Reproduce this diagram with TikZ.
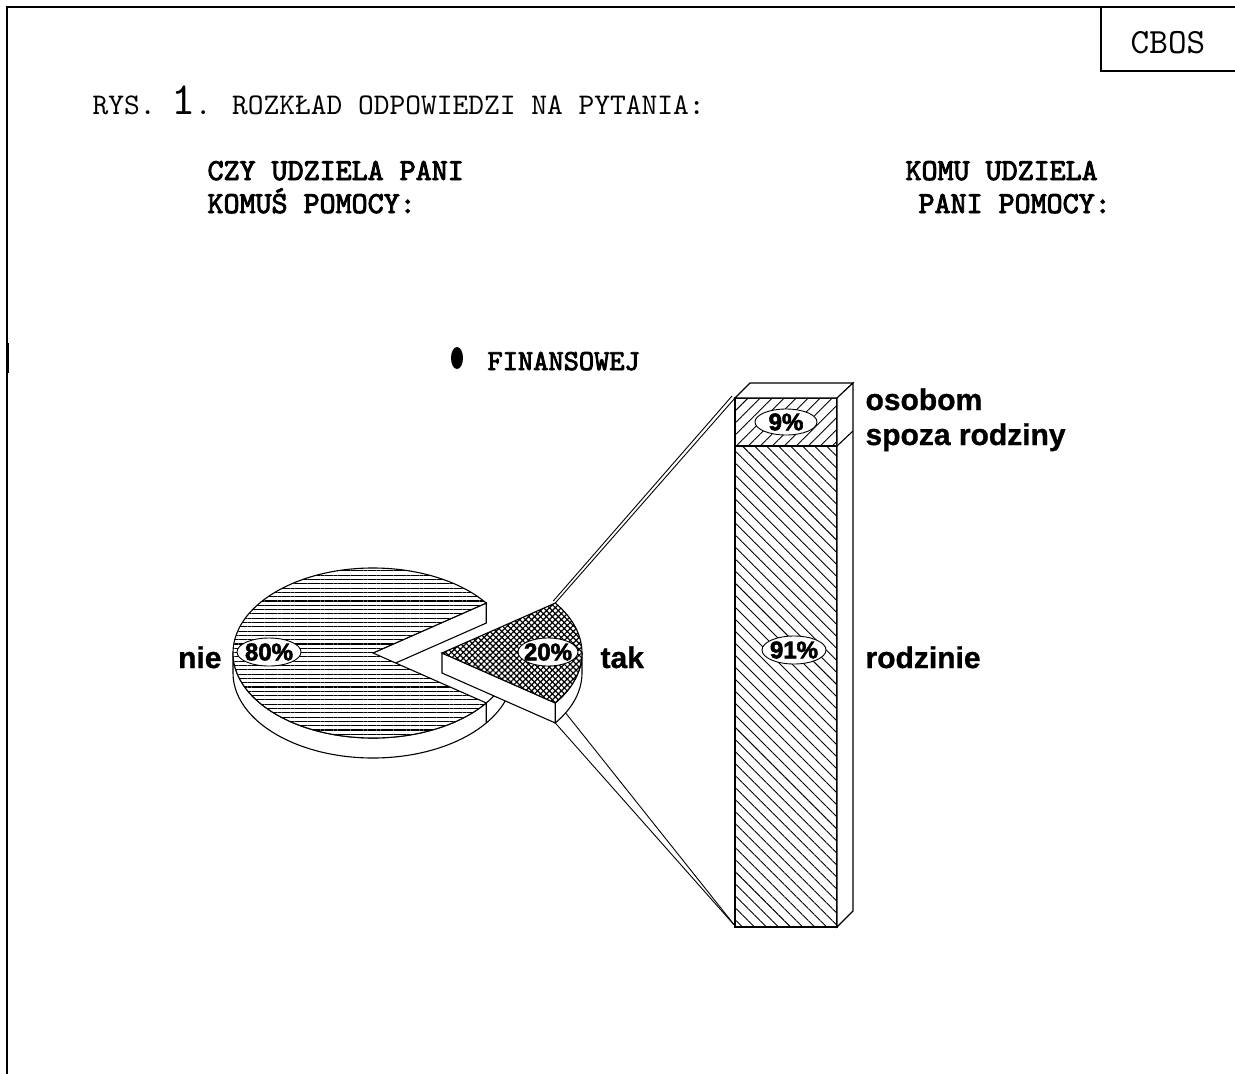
\documentclass[tikz,border=0pt]{standalone}
\usepackage{fontspec}
\setmainfont{Liberation Sans}
\newfontfamily\courier{lmmono10-regular.otf}
\newfontfamily\courierb{lmmono10-regular.otf}[FakeBold=3]
\newfontfamily\heavy{Liberation Sans}[UprightFont={* Bold}, FakeBold=2.5]
\newfontfamily\labelfont{Liberation Sans}[UprightFont={* Bold}, FakeBold=1]
\usetikzlibrary{patterns.meta, shapes.geometric, calc}

\begin{document}
\begin{tikzpicture}[x=1pt, y=1pt, line width=1.1pt,
        every node/.style={inner sep=0pt},
        mono/.style={font=\courier\fontsize{30}{30}\selectfont},
        monobold/.style={font=\courierb\fontsize{30.5}{30.5}\selectfont},
        biglabel/.style={font=\labelfont\fontsize{30}{30}\selectfont},
        pctbox/.style={ellipse, draw, fill=white, line width=0.9pt, minimum width=64pt, minimum height=28pt},
        pct/.style={font=\heavy\fontsize{24}{24}\selectfont},
        wall/.style={fill=white},
        pie arc/.style={x radius=140, y radius=85},
        nietop/.style={preaction={fill=white},
            pattern={Lines[angle=0,distance=4.3pt,line width=1.1pt]}},
        taktop/.style={preaction={fill=white},
            pattern={Hatch[angle=45,distance=4.2pt,line width=1.2pt]}},
        osobfill/.style={preaction={fill=white},
            pattern={Lines[angle=45,distance=8.5pt,line width=0.9pt]}},
        rodzfill/.style={preaction={fill=white},
            pattern={Lines[angle=-45,distance=8.5pt,line width=0.9pt]}},
        leader/.style={line width=0.9pt},
        ]

        \useasboundingbox (0,0) rectangle (1235,-1074);

        % frame
        \draw [line width=1.4pt] (7,-1074) -- (7,-7) -- (1235,-7);
        \draw [line width=3pt] (7,-343) -- (7,-373);
        \draw [line width=1.2pt] (1101,-7) -- (1101,-71) -- (1235,-71);
        \node[anchor=base, font=\courier\fontsize{35.5}{35.5}\selectfont] (cbos) at (1168,-53) {CBOS};

        \node[mono, anchor=base west] (title) at (92,-114)
            {RYS. {\fontsize{46}{46}\selectfont 1}. ROZKŁAD ODPOWIEDZI NA PYTANIA:};
        \node[monobold, anchor=base west] (q1a) at (207,-180) {CZY UDZIELA PANI};
        \node[monobold, anchor=base west] (q1b) at (207,-213) {KOMUŚ POMOCY:};
        \node[monobold, anchor=base west] (q2a) at (905,-180) {KOMU UDZIELA};
        \node[monobold, anchor=base west] (q2b) at (918,-213) {PANI POMOCY:};

        \fill (457,-358) ellipse [x radius=6, y radius=11];
        \node[font=\courierb\fontsize{29}{29}\selectfont, anchor=base west] (fin) at (487,-370) {FINANSOWEJ};

        \coordinate (nieC) at (373,-653);
        \coordinate (takC) at (442,-653);

        % nie
        \draw[wall] (nieC) ++(180:140 and 85) arc[start angle=180, end angle=324, pie arc]
            -- ++(0,-20) arc[start angle=324, end angle=180, pie arc] -- cycle;
        \draw (nieC) ++(-36:140 and 85) arc[start angle=-36, end angle=-20, pie arc];
        \draw ($(nieC)+(0,-20)$) ++(-36:140 and 85) arc[start angle=-36, end angle=-19, pie arc];
        \draw[wall] (nieC) -- ++(36:140 and 85) -- ++(0,-20) -- ($(nieC)+(0,-20)$) -- cycle;
        \draw[nietop] (nieC) -- ++(36:140 and 85) arc[start angle=36, end angle=324, pie arc] -- cycle;

        % tak
        \draw[wall] (takC) ++(-36:140 and 85) arc[start angle=-36, end angle=0, pie arc]
            -- ++(0,-20) arc[start angle=0, end angle=-36, pie arc] -- cycle;
        \draw[wall] (takC) -- ++(-36:140 and 85) -- ++(0,-20) -- ($(takC)+(0,-20)$) -- cycle;
        \draw[taktop] (takC) -- ++(36:140 and 85) arc[start angle=36, end angle=-36, pie arc] -- cycle;

        \coordinate (takU) at ($(takC)+(36:140 and 85)$);
        \coordinate (takU2) at ($(takU)+(-2,2)$);
        \coordinate (takL) at ($(takC)+(-36:140 and 85)+(0,-20)$);
        \coordinate (takL2) at ($(takC)+(-28:140 and 85)+(0,-20)$);

        % bar
        \coordinate (barTL) at (735,-398);
        \coordinate (barTL2) at (732,-396);
        \coordinate (barBL) at (736,-927);
        \draw[rodzfill] (735,-446) rectangle (837,-927);
        \draw[osobfill] (735,-398) rectangle (837,-446);
        \draw[wall] (735,-398) -- (750,-383) -- (853,-383) -- (837,-398) -- cycle;
        \draw[wall] (837,-398) -- (853,-383) -- (853,-911) -- (837,-927) -- cycle;
        \draw (837,-446) -- (853,-431);

        \draw[leader] (takU) -- (barTL);
        \draw[leader] (takU2) -- (barTL2);
        \draw[leader] (takL) -- (barBL);
        \draw[leader] (takL2) -- (barBL);

        \node[pctbox] (e80) at (269,-652) {};
        \node[pct] (p80) at (269,-652) {80\%};
        \node[pctbox, minimum width=60pt] (e20) at (548,-652) {};
        \node[pct] (p20) at (548,-652) {20\%};
        \node[pctbox, minimum width=62pt, minimum height=26pt] (e9) at (786,-422) {};
        \node[pct] (p9) at (786,-422) {9\%};
        \node[pctbox] (e91) at (794,-650) {};
        \node[pct] (p91) at (794,-650) {91\%};

        \node[biglabel, anchor=base east] (nie) at (222,-668) {nie};
        \node[biglabel, anchor=base west] (tak) at (600,-668) {tak};
        \node[biglabel, anchor=base west] (rodz) at (865,-668) {rodzinie};
        \node[biglabel, anchor=base west] (osob) at (865,-410) {osobom};
        \node[biglabel, anchor=base west] (spoza) at (865,-445) {spoza rodziny};

    \end{tikzpicture}
\end{document}
